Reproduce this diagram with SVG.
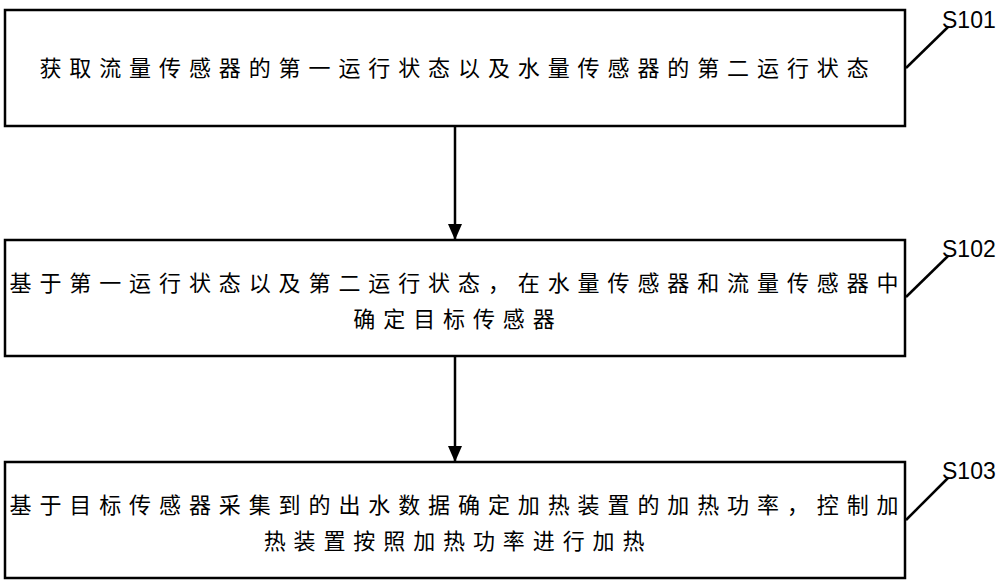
<svg xmlns="http://www.w3.org/2000/svg" width="1000" height="587" viewBox="0 0 1000 587">
<style>
.b{fill:#fff;stroke:#000;stroke-width:2.5}
.t{font-family:"Noto Sans CJK SC",sans-serif;font-size:22px;text-anchor:middle;fill:#000;letter-spacing:7.9px}
.l{font-family:"Liberation Sans",sans-serif;font-size:23px;fill:#000}
.c{stroke:#000;stroke-width:2.5;fill:none}
</style>
<defs><marker id="a" markerWidth="16" markerHeight="14" refX="15" refY="7" orient="auto" markerUnits="userSpaceOnUse"><path d="M0,0 L16,7 L0,14 Z" fill="#000"/></marker></defs>
<rect width="1000" height="587" fill="#fff"/>
<g id="n1"><rect class="b" x="5" y="10" width="900" height="116"/><text class="t" x="458" y="76">获取流量传感器的第一运行状态以及水量传感器的第二运行状态</text></g>
<g id="n2"><rect class="b" x="5" y="240" width="900" height="116"/><text class="t" x="458" y="291">基于第一运行状态以及第二运行状态，在水量传感器和流量传感器中</text><text class="t" x="458" y="327">确定目标传感器</text></g>
<g id="n3"><rect class="b" x="5" y="462" width="900" height="116"/><text class="t" x="458" y="513">基于目标传感器采集到的出水数据确定加热装置的加热功率，控制加</text><text class="t" x="458" y="549">热装置按照加热功率进行加热</text></g>
<g id="labels"><text class="l" x="942" y="28">S101</text><text class="l" x="942" y="257">S102</text><text class="l" x="942" y="479">S103</text></g>
<g id="connectors">
<path class="c" d="M455,126 V239" marker-end="url(#a)"/>
<path class="c" d="M455,356 V461" marker-end="url(#a)"/>
<path class="c" d="M906,68 L948,27"/>
<path class="c" d="M906,297 L948,256"/>
<path class="c" d="M906,520 L948,478"/>
</g>
</svg>
